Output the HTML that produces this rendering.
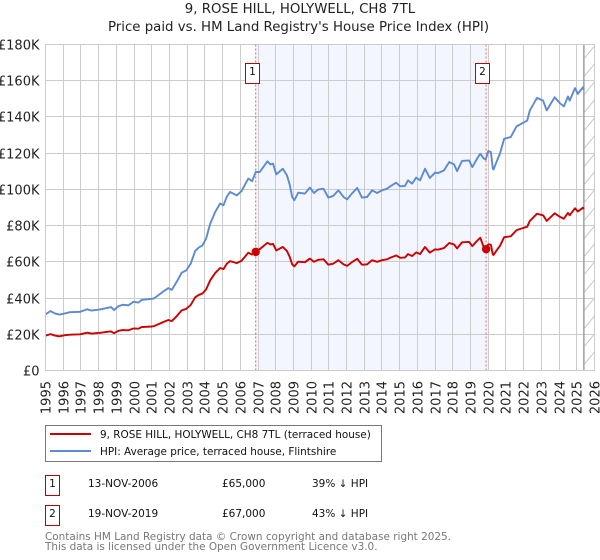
<!DOCTYPE html>
<html>
<head>
<meta charset="utf-8">
<style>
html,body{margin:0;padding:0;background:#fff;}
body{width:600px;height:560px;overflow:hidden;}
svg{display:block;font-family:"DejaVu Sans","Liberation Sans",sans-serif;}
</style>
</head>
<body>
<svg id="chart" width="600" height="560" viewBox="0 0 600 560">
<defs>
<pattern id="hatch" width="10" height="18" patternUnits="userSpaceOnUse" patternTransform="translate(584.5 44)">
<path d="M0 14L10 2" stroke="#c8c8c8" stroke-width="1" fill="none"/>
</pattern>
</defs>
<text x="300" y="13" text-anchor="middle" font-size="13.33" fill="#222">9, ROSE HILL, HOLYWELL, CH8 7TL</text>
<text x="298.5" y="31" text-anchor="middle" font-size="13.33" fill="#222">Price paid vs. HM Land Registry's House Price Index (HPI)</text>
<g id="plot"></g>
<g>
<rect x="45.5" y="425.5" width="336" height="36" fill="#fff" stroke="#777" stroke-width="1"/>
<line x1="50" x2="91" y1="434" y2="434" stroke="#cc0000" stroke-width="2"/>
<text x="100" y="438" font-size="10.45" fill="#111">9, ROSE HILL, HOLYWELL, CH8 7TL (terraced house)</text>
<line x1="50" x2="91" y1="451" y2="451" stroke="#5b8bd0" stroke-width="2"/>
<text x="100" y="455" font-size="10.45" fill="#111">HPI: Average price, terraced house, Flintshire</text>
</g>
<g>
<rect x="45.5" y="475.5" width="14" height="20" fill="#fff" stroke="#bb0000"/>
<text x="52.5" y="487" text-anchor="middle" font-size="10.5" fill="#111">1</text>
<text x="88" y="487" font-size="10.5" fill="#111">13-NOV-2006</text>
<text x="222" y="487" font-size="10.5" fill="#111">£65,000</text>
<text x="312" y="487" font-size="10.5" fill="#111">39% ↓ HPI</text>
<rect x="45.5" y="505.5" width="14" height="20" fill="#fff" stroke="#bb0000"/>
<text x="52.5" y="517" text-anchor="middle" font-size="10.5" fill="#111">2</text>
<text x="88" y="517" font-size="10.5" fill="#111">19-NOV-2019</text>
<text x="222" y="517" font-size="10.5" fill="#111">£67,000</text>
<text x="312" y="517" font-size="10.5" fill="#111">43% ↓ HPI</text>
</g>
<text x="45" y="540" font-size="10.45" fill="#777">Contains HM Land Registry data © Crown copyright and database right 2025.</text>
<text x="45" y="550" font-size="10.45" fill="#777">This data is licensed under the Open Government Licence v3.0.</text>
</svg>
<script>
const xTickYears = [1995,1996,1997,1998,1999,2000,2001,2002,2003,2004,2005,2006,2007,2008,2009,2010,2011,2012,2013,2014,2015,2016,2017,2018,2019,2020,2021,2022,2023,2024,2025,2026];
const yTickValues = [0,20,40,60,80,100,120,140,160,180];
const yTickLabels = ["£0","£20K","£40K","£60K","£80K","£100K","£120K","£140K","£160K","£180K"];
const dates = [1995,1995.28,1995.53,1995.78,1996.1,1996.38,1996.95,1997.36,1997.6,1998.08,1998.55,1998.7,1998.87,1999.12,1999.36,1999.68,1999.96,2000.25,2000.43,2001,2001.13,2001.66,2001.94,2002.13,2002.41,2002.69,2002.94,2003.2,2003.45,2003.67,2003.86,2004.07,2004.3,2004.58,2004.86,2005.05,2005.24,2005.42,2005.8,2006.07,2006.45,2006.67,2006.87,2007.1,2007.53,2007.7,2007.85,2008.03,2008.4,2008.63,2008.78,2008.93,2009.05,2009.27,2009.65,2009.93,2010.16,2010.39,2010.7,2010.97,2011.25,2011.54,2011.83,2012.03,2012.3,2012.6,2012.87,2013.16,2013.44,2013.72,2014,2014.29,2014.5,2014.8,2015.03,2015.3,2015.47,2015.7,2015.93,2016.15,2016.43,2016.7,2017,2017.16,2017.5,2017.8,2018.07,2018.24,2018.52,2018.92,2019.1,2019.37,2019.55,2019.75,2019.86,2020,2020.15,2020.26,2020.3,2020.5,2020.66,2020.9,2021.27,2021.6,2022.2,2022.35,2022.75,2023.1,2023.3,2023.75,2024.04,2024.27,2024.5,2024.6,2024.9,2025.06,2025.35,2025.4];
const hpiValues = [31,32.8,31.5,30.9,31.5,32.2,32.4,33.8,33.1,33.7,34.7,35,33.4,35.5,36.3,36,37.9,37.5,39,39.6,39.8,43.7,45.5,44.5,49,54,55.2,59,66,68,69,72.9,81,87.5,92.2,91.2,96,98.6,96.7,99.1,106,104.5,109.6,109.6,115.5,113.8,114.2,108.3,111.4,107.8,103,95.8,94,98.2,97.7,101,98,99.9,100.4,95.5,96.4,99.5,95.8,94.5,97.7,100.8,95.5,95.8,99.5,98,99.5,100.4,101.9,103.7,101.7,101.9,105,103.2,106.5,105,111.4,106.3,109.3,109,110.5,115.1,113.8,110.1,115.7,116,112.3,117,119.7,117,116.5,121.2,120.6,111.4,111,116,119.7,128,128.9,134.8,138,143.6,150.5,149,143.6,150.9,147.6,145.8,151.3,149,155.9,152.7,156.4,155.1];
const paidValues = [19.2,20.1,19.3,18.9,19.5,19.8,20,20.9,20.4,20.8,21.4,21.6,20.6,21.9,22.3,22.2,23.2,23.1,24,24.3,24.5,26.8,27.9,27.3,30,33.2,34,36.2,40.4,41.8,42.5,44.8,49.8,53.8,56.6,56,59,60.4,59.3,60.6,65,64,66.5,67,70.5,69.6,69.9,66.3,68.2,66,63,58.6,57.5,60.1,59.8,61.8,60,61.1,61.4,58.4,59,60.9,58.6,57.8,59.8,61.7,58.4,58.6,60.9,60,60.9,61.4,62.4,63.5,62.2,62.4,64.3,63.2,65.2,64.3,68.2,65.1,66.9,66.7,67.6,70.4,69.6,67.4,70.8,71,68.7,71.6,73.3,68,67,69.7,69.4,64,63.8,66.7,68.8,73.6,74.1,77.5,79.4,82.6,86.5,85.7,82.6,86.8,84.9,83.8,87,85.7,89.6,87.8,89.9,89.2];
const saleDates = [2006.87,2019.88];
const salePrices = [65.5,67];
const saleLabels = ["1","2"];
const transactionsEnd = 2025.4;

const NS = "http://www.w3.org/2000/svg";
const plot = document.getElementById("plot");
const xLeft = 45.5, xRight = 594.5, yBase = 370.5, yTop = 44.5;
const xScale = y => xLeft + (y - 1995) * (xRight - xLeft) / 31;
const yScale = v => yBase - v * (yBase - yTop) / 180;
function mk(tag, attrs, parent) {
  const el = document.createElementNS(NS, tag);
  for (const k in attrs) el.setAttribute(k, attrs[k]);
  (parent || plot).appendChild(el);
  return el;
}

const shade = mk("rect", {x: xScale(saleDates[0]), y: yTop, width: xScale(saleDates[1]) - xScale(saleDates[0]), height: yBase - yTop, fill: "#f3f6fe"});



const hatch = mk("rect", {x: xScale(transactionsEnd), y: yTop, width: xRight - xScale(transactionsEnd), height: yBase - yTop, fill: "url(#hatch)"});



yTickValues.forEach((v, i) => {
  const y = Math.round(yScale(v) - 0.5) + 0.5;
  const g = mk("line", {x1: xLeft, x2: xRight, y1: y, y2: y, stroke: "#cccccc", "stroke-width": 1});
  
  
  const t = mk("text", {x: 39.5, y: y + 5, "text-anchor": "end", "font-size": 13, fill: "#222"});
  
  
  t.textContent = yTickLabels[i];
});
xTickYears.forEach(yr => {
  const x = Math.round(xScale(yr) - 0.5) + 0.5;
  const g = mk("line", {x1: x, x2: x, y1: yTop, y2: yBase, stroke: "#cccccc", "stroke-width": 1});
  
  
  const t = mk("text", {transform: "translate(" + (x + 5) + " 381) rotate(-90)", "text-anchor": "end", "font-size": 13, fill: "#222"});
  
  
  t.textContent = yr;
});

const endLine = mk("line", {x1: xScale(transactionsEnd), x2: xScale(transactionsEnd), y1: yTop, y2: yBase, stroke: "#999999", "stroke-width": 1.4});



function linePath(vals) {
  return dates.map((d, i) => (i ? "L" : "M") + xScale(d).toFixed(2) + " " + yScale(vals[i]).toFixed(2)).join("");
}
const hpiLine = mk("path", {d: linePath(hpiValues), fill: "none", stroke: "#5b8bd0", "stroke-width": 1.9, "stroke-linejoin": "round"});


const paidLine = mk("path", {d: linePath(paidValues), fill: "none", stroke: "#cc0000", "stroke-width": 1.9, "stroke-linejoin": "round"});



saleDates.forEach((d, i) => {
  const x = xScale(d);
  const v = mk("line", {x1: x, x2: x, y1: yTop, y2: yBase, stroke: "#e0606c", "stroke-width": 1, "stroke-dasharray": "2 2"});
  
  
  const c = mk("circle", {cx: x, cy: yScale(salePrices[i]), r: 4.2, fill: "#cc0000"});
  
  
  const bx = Math.round(x) - 10.5;
  const b = mk("rect", {x: bx, y: 63.5, width: 14, height: 20, fill: "#fff", stroke: "#bb0000", "stroke-width": 1});
  
  
  const t = mk("text", {x: bx + 7, y: 75, "text-anchor": "middle", "font-size": 10.5, fill: "#111"});
  
  
  t.textContent = saleLabels[i];
});

const frame = mk("rect", {x: xLeft, y: yTop, width: xRight - xLeft, height: yBase - yTop, fill: "none", stroke: "#cccccc", "stroke-width": 1});


</script>
</body>
</html>
